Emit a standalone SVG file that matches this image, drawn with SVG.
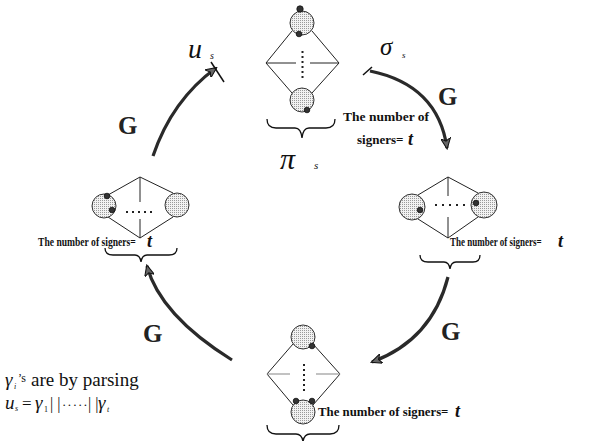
<svg xmlns="http://www.w3.org/2000/svg" width="592" height="441" viewBox="0 0 592 441">
<defs>
<pattern id="stip" width="2" height="2" patternUnits="userSpaceOnUse">
<rect width="2" height="2" fill="#f2f2f2"/>
<rect width="1" height="1" fill="#9a9a9a"/>
</pattern>
<marker id="ah" viewBox="0 0 12 10" refX="10" refY="5" markerWidth="12" markerHeight="10" markerUnits="userSpaceOnUse" orient="auto">
<path d="M0,0 L11,5 L0,10 L3,5 Z" fill="#666" stroke="#111" stroke-width="1"/>
</marker>
</defs>
<style>
.ln{stroke:#222;stroke-width:1;fill:none}
.gl{stroke:#999;stroke-width:1.2;fill:none}
.big{fill:url(#stip);stroke:#333;stroke-width:1}
.sm{fill:#333;stroke:#111;stroke-width:0.8}
.dot{fill:#222}
.br{stroke:#111;stroke-width:1.3;fill:none}
.arr{stroke:#2a2a2a;stroke-width:3.2;fill:none}
.tick{stroke:#111;stroke-width:1.5}
.lbl{font-weight:bold;fill:#111}
.t{font-weight:bold;font-style:italic;fill:#111}
.G{font-weight:bold;fill:#222}
.m{font-style:italic;fill:#111}
.r{fill:#111}
</style>

<g id="node-top">
<line class="ln" x1="266" y1="63" x2="292" y2="31"/>
<line class="ln" x1="339" y1="63" x2="312" y2="31"/>
<line class="ln" x1="266" y1="63" x2="292" y2="93"/>
<line class="ln" x1="339" y1="63" x2="312" y2="93"/>
<line class="ln" x1="266" y1="63" x2="296" y2="63"/>
<line class="ln" x1="310" y1="63" x2="339" y2="63"/>
<circle class="big" cx="302" cy="23" r="12"/>
<circle class="big" cx="302" cy="100" r="12"/>
<circle class="sm" cx="300" cy="9" r="3.2"/>
<circle class="sm" cx="299" cy="34" r="2.8"/>
<circle class="sm" cx="307" cy="110" r="2.8"/>
<g class="dot"><rect x="301.5" y="51" width="2" height="2"/><rect x="301.5" y="56" width="2" height="2"/><rect x="301.5" y="61" width="2" height="2"/><rect x="301.5" y="66" width="2" height="2"/><rect x="301.5" y="71" width="2" height="2"/><rect x="301.5" y="76" width="2" height="2"/></g>
<path class="br" d="M267,119 Q267,128 276,128 L295,128 Q301,128 302,138 Q303,128 309,128 L326,128 Q335,128 335,119"/>
<text class="m" x="280" y="169" font-size="30" font-family="Liberation Serif, serif">π</text>
<text class="m" x="314" y="169" font-size="11" font-family="Liberation Serif, serif">s</text>
</g>

<g id="node-right">
<line class="ln" x1="448" y1="177" x2="418" y2="195"/>
<line class="ln" x1="448" y1="177" x2="478" y2="193"/>
<line class="ln" x1="448" y1="238" x2="418" y2="219"/>
<line class="ln" x1="448" y1="238" x2="478" y2="217"/>
<line class="ln" x1="448" y1="177" x2="448" y2="196"/>
<line class="ln" x1="448" y1="217" x2="448" y2="238"/>
<circle class="big" cx="412" cy="207" r="13"/>
<circle class="big" cx="484" cy="205" r="13"/>
<circle class="sm" cx="420" cy="210" r="2.8"/>
<circle class="sm" cx="476" cy="203" r="2.8"/>
<g class="dot"><rect x="435" y="204" width="2" height="2"/><rect x="442" y="204" width="2" height="2"/><rect x="449" y="204" width="2" height="2"/><rect x="456" y="204" width="2" height="2"/><rect x="463" y="204" width="2" height="2"/></g>
<path class="br" d="M420,255 Q420,262 428,262 L444,262 Q449,262 450,269 Q451,262 456,262 L473,262 Q480,262 480,255"/>
<text class="lbl" transform="translate(450,246) scale(1,1.4)" x="0" y="0" font-size="9" font-family="Liberation Serif, serif">The number of signers=</text>
<text class="t" x="558" y="247" font-size="18" font-family="Liberation Serif, serif">t</text>
</g>

<g id="node-bottom">
<line class="ln" x1="267" y1="374" x2="293" y2="344"/>
<line class="ln" x1="340" y1="374" x2="313" y2="344"/>
<line class="ln" x1="267" y1="374" x2="293" y2="405"/>
<line class="ln" x1="340" y1="374" x2="313" y2="405"/>
<line class="gl" x1="267" y1="374" x2="290" y2="374"/>
<line class="gl" x1="316" y1="374" x2="340" y2="374"/>
<circle class="big" cx="303" cy="337" r="12"/>
<circle class="big" cx="303" cy="412" r="12"/>
<circle class="sm" cx="312" cy="346" r="2.8"/>
<circle class="sm" cx="296" cy="401" r="2.8"/>
<circle class="sm" cx="312" cy="401" r="2.8"/>
<g class="dot"><rect x="303" y="364" width="2" height="2"/><rect x="303" y="369" width="2" height="2"/><rect x="303" y="374" width="2" height="2"/><rect x="303" y="379" width="2" height="2"/><rect x="303" y="384" width="2" height="2"/><rect x="303" y="389" width="2" height="2"/></g>
<path class="br" d="M267,425 Q267,434 276,434 L296,434 Q302,434 303,442 Q304,434 310,434 L330,434 Q339,434 339,425"/>
<text class="lbl" x="318" y="416" font-size="12.8" font-family="Liberation Serif, serif">The number of signers=</text>
<text class="t" x="455" y="417" font-size="18" font-family="Liberation Serif, serif">t</text>
</g>

<g id="node-left">
<line class="ln" x1="140" y1="177" x2="108" y2="195"/>
<line class="ln" x1="140" y1="177" x2="173" y2="193"/>
<line class="ln" x1="140" y1="238" x2="108" y2="217"/>
<line class="ln" x1="140" y1="238" x2="173" y2="217"/>
<line class="ln" x1="140" y1="177" x2="140" y2="202"/>
<line class="ln" x1="140" y1="219" x2="140" y2="238"/>
<circle class="big" cx="104" cy="206" r="12"/>
<circle class="big" cx="177" cy="205" r="12"/>
<circle class="sm" cx="107" cy="196" r="2.8"/>
<circle class="sm" cx="112" cy="210" r="2.8"/>
<g class="dot"><rect x="126" y="211" width="2" height="2"/><rect x="132" y="211" width="2" height="2"/><rect x="138" y="211" width="2" height="2"/><rect x="144" y="211" width="2" height="2"/><rect x="150" y="211" width="2" height="2"/></g>
<path class="br" d="M105,248 Q105,255 113,255 L135,255 Q140,255 141,262 Q142,255 147,255 L169,255 Q177,255 177,248"/>
<text class="lbl" transform="translate(38,246) scale(1,1.35)" x="0" y="0" font-size="9.6" font-family="Liberation Serif, serif">The number of signers=</text>
<text class="t" x="147" y="247" font-size="18" font-family="Liberation Serif, serif">t</text>
</g>

<g id="connectors">
<path class="arr" d="M153,156 Q172,100 216,68" marker-end="url(#ah)"/>
<line class="tick" x1="211" y1="62" x2="224" y2="82"/>
<line class="tick" x1="363" y1="75" x2="372" y2="67"/>
<path class="arr" d="M370,71 Q438,85 447,148" marker-end="url(#ah)"/>
<path class="arr" d="M448,277 Q432,340 372,362" marker-end="url(#ah)"/>
<path class="arr" d="M232,360 Q160,315 147,266" marker-end="url(#ah)"/>
</g>

<g id="labels">
<text class="m" x="188" y="58" font-size="28" font-family="Liberation Serif, serif">u</text>
<text class="m" x="210" y="59" font-size="10" font-family="Liberation Serif, serif">s</text>
<text class="m" x="380" y="55" font-size="25" font-family="Liberation Serif, serif">σ</text>
<text class="m" x="402" y="58" font-size="9" font-family="Liberation Serif, serif">s</text>
<text class="G" x="118" y="134" font-size="25" font-family="Liberation Serif, serif">G</text>
<text class="G" x="438" y="105" font-size="25" font-family="Liberation Serif, serif">G</text>
<text class="G" x="441" y="340" font-size="25" font-family="Liberation Serif, serif">G</text>
<text class="G" x="143" y="342" font-size="25" font-family="Liberation Serif, serif">G</text>
<text class="lbl" x="343" y="121" font-size="13.5" font-family="Liberation Serif, serif">The number of</text>
<text class="lbl" x="357" y="144" font-size="13" font-family="Liberation Serif, serif">signers=</text>
<text class="t" x="408" y="145" font-size="18" font-family="Liberation Serif, serif">t</text>
<text class="m" x="5" y="386" font-size="19" font-family="Liberation Serif, serif">γ</text>
<text class="m" x="14" y="389" font-size="8" font-family="Liberation Serif, serif">i</text>
<text class="r" x="18" y="382" font-size="12" font-family="Liberation Serif, serif">’s</text>
<text class="r" x="31" y="386" font-size="19" font-family="Liberation Serif, serif">are by parsing</text>
<text class="m" x="5" y="409" font-size="19" font-family="Liberation Serif, serif">u</text>
<text class="m" x="15" y="411" font-size="8" font-family="Liberation Serif, serif">s</text>
<text class="r" x="22" y="409" font-size="17" font-family="Liberation Serif, serif">=</text>
<text class="m" x="35" y="409" font-size="19" font-family="Liberation Serif, serif">γ</text>
<text class="r" x="44" y="412" font-size="8" font-family="Liberation Serif, serif">1</text>
<text class="r" x="50" y="409" font-size="16" font-family="Liberation Serif, serif">| |</text>
<text class="r" x="62" y="409" font-size="13" letter-spacing="1" font-family="Liberation Serif, serif">·····</text>
<text class="r" x="88" y="409" font-size="16" font-family="Liberation Serif, serif">| |</text>
<text class="m" x="98" y="409" font-size="19" font-family="Liberation Serif, serif">γ</text>
<text class="m" x="107" y="412" font-size="8" font-family="Liberation Serif, serif">t</text>
</g>
</svg>
